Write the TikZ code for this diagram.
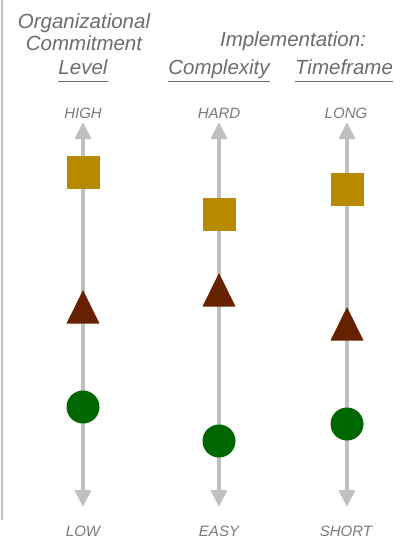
\documentclass[tikz,border=0pt]{standalone}
\usepackage{fontspec}
\setmainfont{Liberation Sans}
\usetikzlibrary{arrows.meta}
\definecolor{axisgray}{HTML}{C0C0C0}
\definecolor{headgray}{HTML}{6C6C6C}
\definecolor{labgray}{HTML}{7A7A7A}
\definecolor{sqcol}{HTML}{B88A00}
\definecolor{tricol}{HTML}{662200}
\definecolor{circcol}{HTML}{006600}
\begin{document}
\begin{tikzpicture}[x=1pt,y=-1pt,
  head/.style={font=\fontsize{20.5}{24}\selectfont\itshape, text=headgray, inner sep=0pt, anchor=base},
  lab/.style={font=\fontsize{15}{18}\selectfont\itshape, text=labgray, inner sep=0pt, anchor=base},
  axis/.style={draw=axisgray, line width=4pt, {Triangle[width=16pt,length=17pt]}-{Triangle[width=16pt,length=17pt]}},
  ulin/.style={draw=headgray, line width=1.5pt},
  sq/.style={fill=sqcol},
  tri/.style={fill=tricol},
  dot/.style={fill=circcol}]
\useasboundingbox (0,0) rectangle (408,539);
% left border
\coordinate (lt) at (2,0);
\coordinate (lb) at (2,520);
\draw[axisgray, line width=2.5pt] (lt) -- (lb);
% headers
\node[head] (org) at (84,28) {Organizational};
\node[head] (com) at (84,50.5) {Commitment};
\node[head] (lvl) at (83,74) {Level};
\node[head] (imp) at (293,46) {Implementation:};
\node[head] (cpx) at (219,74) {Complexity};
\node[head] (tmf) at (344,74) {Timeframe};
\draw[ulin] ([yshift=-7.5pt]lvl.base west) -- ([yshift=-7.5pt]lvl.base east);
\draw[ulin] ([yshift=-7.5pt]cpx.base west) -- ([yshift=-7.5pt]cpx.base east);
\draw[ulin] ([yshift=-7.5pt]tmf.base west) -- ([yshift=-7.5pt]tmf.base east);
% end labels
\node[lab] (high) at (83,118.5) {HIGH};
\node[lab] (hard) at (219,118.5) {HARD};
\node[lab] (long) at (346,118.5) {LONG};
\node[lab] (low) at (83,536) {LOW};
\node[lab] (easy) at (219,536) {EASY};
\node[lab] (short) at (346,536) {SHORT};
% axes
\foreach \n/\x in {a/83,b/219,c/347}{
  \coordinate (\n top) at (\x,122);
  \coordinate (\n bot) at (\x,507);
  \draw[axis] (\n top) -- (\n bot);
}
% markers: x, square y, triangle apex y, circle y
\foreach \x/\s/\t/\c in {83/172/290/407, 219/214/273/441, 347/189/307/424}{
  \fill[sq] (\x-16.5,\s-16.5) rectangle (\x+16.5,\s+16.5);
  \fill[tri] (\x,\t) -- (\x+16.5,\t+33.5) -- (\x-16.5,\t+33.5) -- cycle;
  \fill[dot] (\x,\c) circle (16.5);
}
\end{tikzpicture}
\end{document}
